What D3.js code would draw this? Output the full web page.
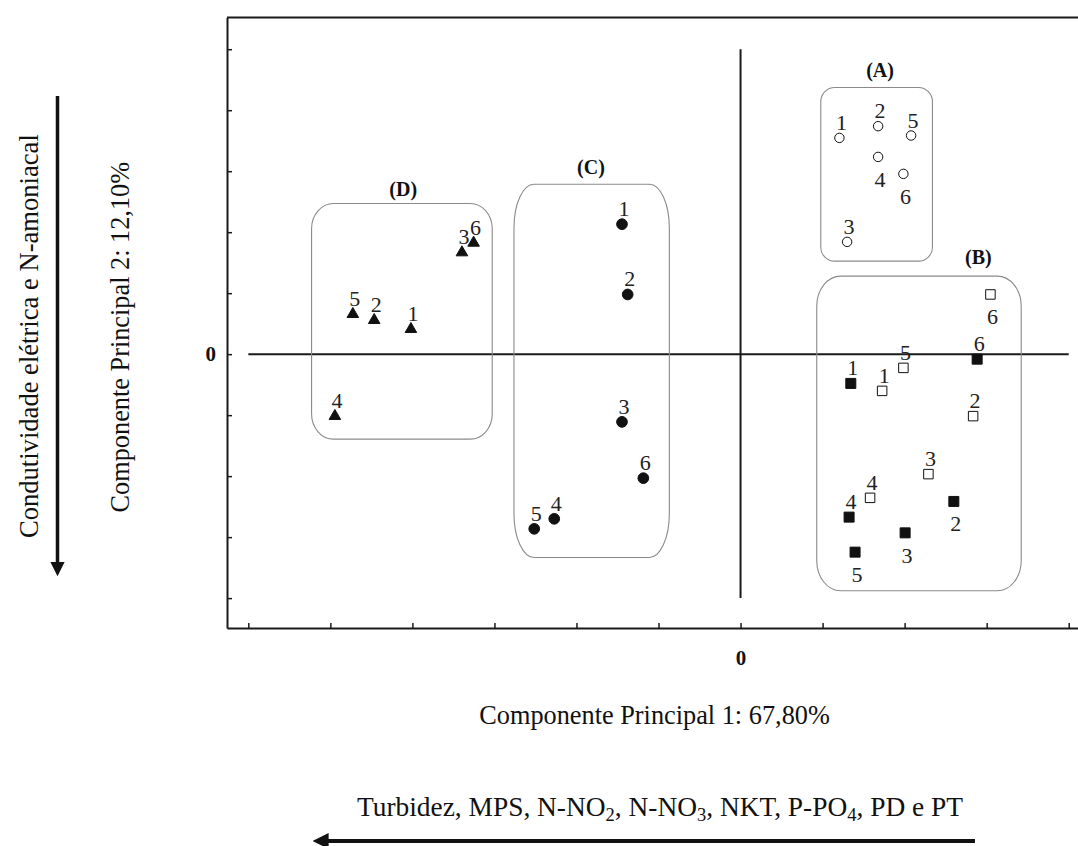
<!DOCTYPE html>
<html>
<head>
<meta charset="utf-8">
<script src="https://cdn.jsdelivr.net/npm/d3@7"></script>
<style>
  html, body { margin: 0; padding: 0; background: #fff; }
  svg { display: block; }
  svg text { font-family: 'Liberation Serif', 'Times New Roman', Times, serif; }
</style>
</head>
<body>
<svg id="chart" width="1078" height="846"></svg>
<script>
// Sample identifiers (campaigns 1..6) shared by every group
const sampleIds = [1, 2, 3, 4, 5, 6];

// Group A – open circles (PC1, PC2 scores)
const groupAx = [1.205, 1.677, 1.299, 1.677, 2.079, 1.985];
const groupAy = [3.546, 3.738, 1.841, 3.234, 3.585, 2.956];
const groupAlabel = ["t", "t", "t", "b", "t", "b"];

// Group B – open squares
const groupBopenX = [1.726, 2.835, 2.290, 1.579, 1.985, 3.046];
const groupBopenY = [-0.602, -1.016, -1.967, -2.356, -0.225, 0.979];
const groupBopenLabel = ["t", "t", "t", "t", "t", "b"];

// Group B – filled squares
const groupBfillX = [1.344, 2.600, 2.006, 1.323, 1.396, 2.884];
const groupBfillY = [-0.480, -2.415, -2.930, -2.672, -3.246, -0.082];
const groupBfillLabel = ["t", "b", "b", "t", "b", "t"];

// Group C – filled circles
const groupCx = [-1.445, -1.376, -1.445, -2.271, -2.515, -1.185];
const groupCy = [2.131, 0.979, -1.110, -2.700, -2.864, -2.033];
const groupClabel = ["t", "t", "t", "t", "t", "t"];

// Group D – filled triangles
const groupDx = [-4.018, -4.466, -3.396, -4.945, -4.726, -3.254];
const groupDy = [0.410, 0.557, 1.667, -1.016, 0.656, 1.825];
const groupDlabel = ["t", "t", "t", "t", "t", "t"];

// Cluster envelopes: [xMin, xMax, yMin, yMax] in score units
const clusterNames = ["(A)", "(B)", "(C)", "(D)"];
const clusterBoxes = [
  [0.978, 2.339, 1.525, 4.372],
  [0.929, 3.421, -3.880, 1.279],
  [-2.762, -0.868, -3.333, 2.787],
  [-5.229, -3.027, -1.393, 2.470]
];
const clusterTitleX = [1.701, 2.900, -1.823, -4.112];
const clusterTitleY = [4.656, 1.590, 3.070, 2.716];

// Axis ticks (unlabelled except the origin)
const xTicks = [-6, -5, -4, -3, -2, -1, 0, 1, 2, 3, 4];
const yTicks = [-4, -3, -2, -1, 0, 1, 2, 3, 4, 5];

const xTitle = "Componente Principal 1: 67,80%";
const yTitle = "Componente Principal 2: 12,10%";
const yVarsLabel = "Condutividade elétrica e N-amoniacal";

const FONT = "'Liberation Serif', 'Times New Roman', Times, serif";

const svg = d3.select("#chart").attr("font-family", FONT);

const x = d3.scaleLinear().domain([-6.26, 4.15]).range([227, 1081]);
const y = d3.scaleLinear().domain([-4.49, 5.52]).range([628, 17.5]);

const axisColor = "#1a1a1a";

// Frame: top border line
svg.append("line")
  .attr("x1", x.range()[0]).attr("x2", x.range()[1])
  .attr("y1", y.range()[1]).attr("y2", y.range()[1])
  .attr("stroke", axisColor).attr("stroke-width", 2);

// Bottom axis with inward ticks
const gx = svg.append("g")
  .attr("transform", `translate(0,${y.range()[0]})`)
  .call(d3.axisBottom(x).tickValues(xTicks).tickSizeInner(-5).tickSizeOuter(0)
    .tickPadding(22).tickFormat(d => d === 0 ? "0" : ""));
gx.attr("font-family", FONT);
gx.select(".domain").attr("stroke", axisColor).attr("stroke-width", 2);
gx.selectAll(".tick line").attr("stroke", axisColor).attr("stroke-width", 1.5);
gx.selectAll(".tick text")
  .attr("font-family", FONT)
  .attr("font-size", 21).attr("font-weight", "bold").attr("fill", "#111");

// Left axis with inward ticks
const gy = svg.append("g")
  .attr("transform", `translate(${x.range()[0]},0)`)
  .call(d3.axisLeft(y).tickValues(yTicks).tickSizeInner(-5).tickSizeOuter(0)
    .tickPadding(11).tickFormat(d => d === 0 ? "0" : ""));
gy.attr("font-family", FONT);
gy.select(".domain").attr("stroke", axisColor).attr("stroke-width", 2);
gy.selectAll(".tick line").attr("stroke", axisColor).attr("stroke-width", 1.5);
gy.selectAll(".tick text")
  .attr("font-family", FONT)
  .attr("font-size", 21).attr("font-weight", "bold").attr("fill", "#111");

// Origin cross lines
svg.append("line")
  .attr("x1", x(d3.min(xTicks))).attr("x2", x(d3.max(xTicks)))
  .attr("y1", y(0)).attr("y2", y(0))
  .attr("stroke", axisColor).attr("stroke-width", 2);
svg.append("line")
  .attr("x1", x(0)).attr("x2", x(0))
  .attr("y1", y(d3.min(yTicks))).attr("y2", y(d3.max(yTicks)))
  .attr("stroke", axisColor).attr("stroke-width", 2);

// Cluster envelopes
const boxRadii = [[14, 14], [24, 30], [20, 44], [22, 25]];
clusterBoxes.forEach((b, i) => {
  svg.append("rect")
    .attr("x", x(b[0])).attr("y", y(b[3]))
    .attr("width", x(b[1]) - x(b[0])).attr("height", y(b[2]) - y(b[3]))
    .attr("rx", boxRadii[i][0]).attr("ry", boxRadii[i][1])
    .attr("fill", "none").attr("stroke", "#8a8a8a").attr("stroke-width", 1.1);
  svg.append("text")
    .attr("x", x(clusterTitleX[i])).attr("y", y(clusterTitleY[i]))
    .attr("dy", 7)
    .attr("text-anchor", "middle")
    .attr("font-family", FONT)
    .attr("font-size", 20).attr("font-weight", "bold").attr("fill", "#111")
    .text(clusterNames[i]);
});

// Scatter groups
const series = [
  { xs: groupAx, ys: groupAy, side: groupAlabel, shape: d3.symbolCircle, size: 70, fill: "#fff" },
  { xs: groupBopenX, ys: groupBopenY, side: groupBopenLabel, shape: d3.symbolSquare, size: 90, fill: "#fff" },
  { xs: groupBfillX, ys: groupBfillY, side: groupBfillLabel, shape: d3.symbolSquare, size: 100, fill: "#111" },
  { xs: groupCx, ys: groupCy, side: groupClabel, shape: d3.symbolCircle, size: 90, fill: "#111" },
  { xs: groupDx, ys: groupDy, side: groupDlabel, shape: d3.symbolTriangle, size: 58, fill: "#111" }
];

series.forEach(s => {
  const pts = sampleIds.map((id, i) => ({ id, x: s.xs[i], y: s.ys[i], side: s.side[i] }));
  const g = svg.append("g");
  g.selectAll("path").data(pts).enter().append("path")
    .attr("transform", d => `translate(${x(d.x)},${y(d.y)})`)
    .attr("d", d3.symbol().type(s.shape).size(s.size))
    .attr("fill", s.fill).attr("stroke", "#111").attr("stroke-width", 1);
  g.selectAll("text").data(pts).enter().append("text")
    .attr("x", d => x(d.x) + 2)
    .attr("y", d => y(d.y) + (d.side === "t" ? -8 : 30))
    .attr("text-anchor", "middle")
    .attr("font-family", FONT)
    .attr("font-size", 22).attr("fill", "#222")
    .text(d => d.id);
});

// Axis titles
svg.append("text")
  .attr("x", x(0) - 86).attr("y", 724)
  .attr("text-anchor", "middle").attr("font-family", FONT)
  .attr("font-size", 26.3).attr("fill", "#111")
  .text(xTitle);

svg.append("text")
  .attr("transform", `translate(129,${y(0) - 17}) rotate(-90)`)
  .attr("text-anchor", "middle").attr("font-family", FONT)
  .attr("font-size", 26.3).attr("fill", "#111")
  .text(yTitle);

svg.append("text")
  .attr("transform", `translate(38,${y(0) - 18}) rotate(-90)`)
  .attr("text-anchor", "middle").attr("font-family", FONT)
  .attr("font-size", 26.6).attr("fill", "#111")
  .text(yVarsLabel);

// Variable loading on PC1 with subscripts
const loadParts = [
  ["Turbidez, MPS, N-NO", false], ["2", true], [", N-NO", false], ["3", true],
  [", NKT, P-PO", false], ["4", true], [", PD e PT", false]
];
const loadText = svg.append("text")
  .attr("x", 660).attr("y", 816)
  .attr("text-anchor", "middle").attr("font-family", FONT)
  .attr("font-size", 27.4).attr("fill", "#111");
loadParts.forEach((p, i) => {
  const prevSub = i > 0 && loadParts[i - 1][1];
  loadText.append("tspan")
    .attr("dy", p[1] ? 5 : (prevSub ? -5 : 0))
    .attr("font-size", p[1] ? 18.5 : 27.4)
    .text(p[0]);
});

// Direction arrows
const defs = svg.append("defs");
defs.append("marker")
  .attr("id", "head").attr("viewBox", "0 0 10 10")
  .attr("refX", 1).attr("refY", 5)
  .attr("markerWidth", 4.2).attr("markerHeight", 4.4)
  .attr("markerUnits", "strokeWidth")
  .attr("orient", "auto")
  .append("path").attr("d", "M0,0 L10,5 L0,10 Z").attr("fill", "#111");

svg.append("line")
  .attr("x1", 57.5).attr("x2", 57.5).attr("y1", 96).attr("y2", 563)
  .attr("stroke", "#111").attr("stroke-width", 3.5)
  .attr("marker-end", "url(#head)");

svg.append("line")
  .attr("x1", 975).attr("x2", 327).attr("y1", 841).attr("y2", 841)
  .attr("stroke", "#111").attr("stroke-width", 3.8)
  .attr("marker-end", "url(#head)");
</script>
</body>
</html>
